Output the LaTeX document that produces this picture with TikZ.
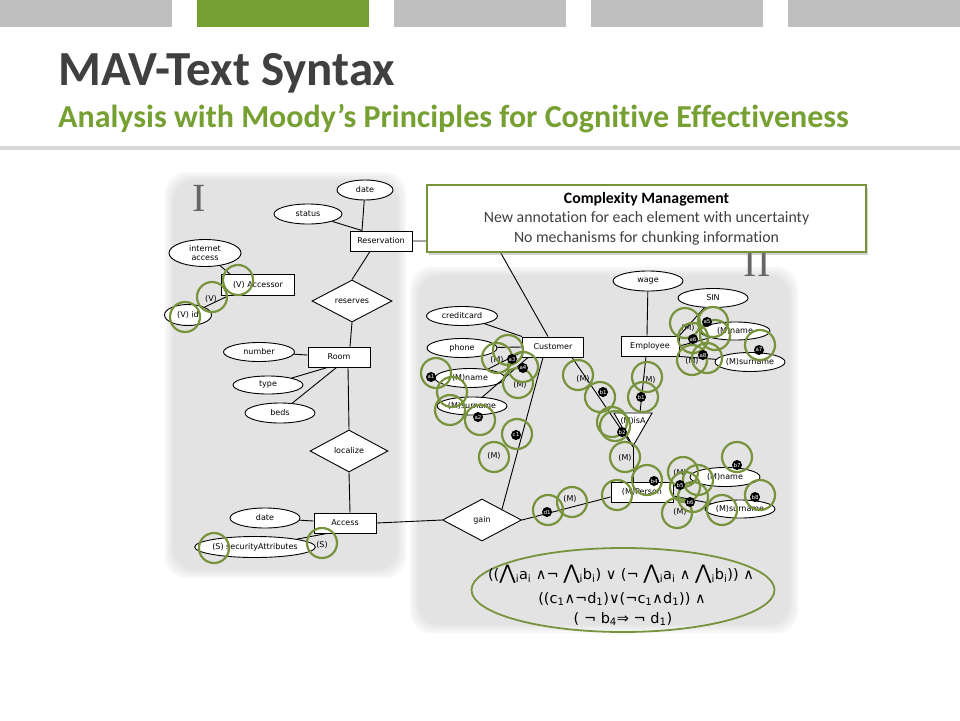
\documentclass[tikz,border=0pt]{standalone}
\usepackage{fontspec}
\setmainfont{DejaVu Sans}
\newfontfamily\calfont[Ligatures=NoCommon]{Carlito}
\newfontfamily\romfont{Liberation Serif}
\usetikzlibrary{shapes.geometric,shadows}
\definecolor{barg}{RGB}{191,191,191}
\definecolor{mavg}{RGB}{119,160,51}
\definecolor{circg}{RGB}{119,147,60}
\definecolor{titleg}{RGB}{64,64,64}
\newcommand\BW{{\fontsize{20}{20}\selectfont ⋀}}
\begin{document}
\begin{tikzpicture}[x=1pt,y=-1pt,
 ent/.style={draw,fill=white,line width=0.9pt,minimum height=20pt,inner sep=1pt,font=\fontsize{8}{9}\selectfont},
 attr/.style={ellipse,draw,fill=white,line width=0.9pt,minimum width=70pt,minimum height=19pt,inner sep=0pt,font=\fontsize{8}{9}\selectfont},
 rel/.style={diamond,draw,fill=white,line width=0.9pt,minimum width=80pt,minimum height=42pt,inner sep=0pt,font=\fontsize{8}{9}\selectfont},
 conn/.style={line width=0.9pt},
 gc/.style={circle,draw=circg,line width=2.2pt,minimum size=30pt,inner sep=0pt},
 bd/.style={circle,fill=black,minimum size=10pt,inner sep=0pt,text=white,font=\fontsize{5.5}{5.5}\selectfont},
 lab/.style={inner sep=0pt,font=\fontsize{8}{9}\selectfont},
]
\useasboundingbox (0,0) rectangle (960,720);
\fill[white] (0,0) rectangle (960,720);
% top bars
\fill[barg] (0,0) rectangle (172,27);
\fill[mavg] (197,0) rectangle (369,27);
\fill[barg] (394,0) rectangle (566,27);
\fill[barg] (591,0) rectangle (763,27);
\fill[barg] (788,0) rectangle (960,27);
% titles
\node[anchor=base west,inner sep=0pt,text=titleg,font=\calfont\bfseries\fontsize{49}{49}\selectfont] (title) at (58,85) {MAV-Text Syntax};
\node[anchor=base west,inner sep=0pt,text=mavg,font=\calfont\bfseries\fontsize{32}{32}\selectfont] (sub) at (58,127) {Analysis with Moody’s Principles for Cognitive Effectiveness};
\fill[black!15] (0,146) rectangle (960,150);
% panels
\foreach \d/\p in {8/3,6/5,4/7,2/9,0/11} {
  \fill[black!\p,rounded corners=22pt] (173-\d,180-\d) rectangle (398+\d,570+\d);
}
\foreach \d/\p in {8/3,6/5,4/7,2/9,0/11} {
  \fill[black!\p,rounded corners=22pt] (418-\d,275-\d) rectangle (790+\d,625+\d);
}
\node[font=\romfont\fontsize{40}{40}\selectfont,text=black!60,inner sep=0pt] (lI) at (199,198) {I};
\node[font=\romfont\fontsize{40}{40}\selectfont,text=black!60,inner sep=0pt] (lII) at (757,263) {II};

% ---- panel I nodes
\node[attr,minimum width=56pt,minimum height=20pt] (rdate) at (365,190) {date};
\node[attr,minimum width=68pt,minimum height=20pt] (status) at (308,214) {status};
\node[ent,minimum width=62pt] (res) at (381,241) {Reservation};
\node[rel] (reserves) at (352,301) {reserves};
\node[attr,minimum width=72pt,minimum height=27pt,align=center,font=\fontsize{8}{9.5}\selectfont] (iacc) at (205,253) {internet\\access};
\node[ent,minimum width=73pt,minimum height=21pt] (accessor) at (258,285) {(V) Accessor};
\node[attr,minimum width=47pt,minimum height=21pt] (vid) at (188,315) {(V) id};
\node[ent,minimum width=62pt] (room) at (339,357) {Room};
\node[attr,minimum width=71pt] (number) at (259,352) {number};
\node[attr,minimum height=18pt] (type) at (268,385) {type};
\node[attr,minimum height=20pt] (beds) at (280,413) {beds};
\node[rel,minimum width=78pt] (localize) at (349,451) {localize};
\node[ent,minimum width=62pt] (access) at (345,523) {Access};
\node[attr,minimum height=20pt] (adate) at (265,518) {date};
\node[attr,minimum width=104pt,minimum height=21pt] (secattr) at (255,547) {(S) securityAttributes};

% ---- panel II nodes
\node[ent,minimum width=61pt] (cust) at (553,347) {Customer};
\node[attr,minimum width=71pt] (credit) at (462,316) {creditcard};
\node[attr] (phone) at (462,348) {phone};
\node[attr] (cname) at (470,378) {(M)name};
\node[attr,minimum height=18pt] (csur) at (472,406) {(M)surname};
\node[rel,minimum width=79pt] (gain) at (482,520) {gain};
\node[ent,minimum width=58pt] (emp) at (650,346) {Employee};
\node[attr,minimum height=20pt] (wage) at (648,281) {wage};
\node[attr] (sin) at (713,298) {SIN};
\node[attr,minimum height=18pt] (ename) at (735,331) {(M)name};
\node[attr] (esur) at (750,362) {(M)surname};
\node[regular polygon,regular polygon sides=3,shape border rotate=180,draw,fill=white,line width=0.9pt,minimum size=44pt,inner sep=0pt] (isa) at (633,424) {};
\node[lab] (isatext) at (633,421) {(M)isA};
\node[ent,minimum width=62pt] (person) at (642,492) {(M)Person};
\node[attr] (pname) at (725,477) {(M)name};
\node[attr,minimum height=18pt] (psur) at (740,509) {(M)surname};

% ---- connectors
\draw[conn] (rdate) -- ([xshift=-19pt]res.north);
\draw[conn] (status) -- ([xshift=-19pt]res.north);
\draw[conn] ([xshift=-11pt]res.south) -- (reserves.north);
\draw[conn] (reserves.south) -- ([xshift=11pt]room.north);
\draw[conn] (number) -- (room);
\draw[conn] (type) -- ([xshift=20pt]room.south west);
\draw[conn] (beds) -- ([xshift=29pt]room.south west);
\draw[conn] ([xshift=9pt]room.south) -- (localize.north);
\draw[conn] (localize.south) -- ([xshift=5pt]access.north);
\draw[conn] (adate) -- (access);
\draw[conn] ([xshift=-18pt]access.south) -- (secattr);
\draw[conn] (access.east) -- (gain.west);
\draw[conn] (iacc) -- ([xshift=-28pt]accessor.north);
\draw[conn] (vid) -- ([xshift=-30pt]accessor.south);
\coordinate (hid) at (494,241);
\draw[conn] (res.east) -- (hid) -- ([xshift=-5pt]cust.north);
\draw[conn] (credit) -- (cust.north west);
\draw[conn] (phone) -- (cust.west);
\draw[conn] (cname) -- ([yshift=-5pt]cust.west);
\draw[conn] (csur) -- ([xshift=6pt]cust.south west);
\draw[conn] ([xshift=-10pt]cust.south) -- (gain.north east);
\draw[conn] (gain.east) -- ([yshift=-5pt]person.west);
\draw[conn] ([xshift=19pt]cust.south) -- (isa.corner 1);
\draw[conn] (wage) -- ([xshift=-3pt]emp.north);
\draw[conn] ([xshift=-4pt]emp.south) -- ([xshift=-10pt]emp.south |- isa.corner 2);
\draw[conn] (isa.corner 1) -- (isa.corner 1 |- person.north);
\draw[conn] (emp.north east) -- (sin);
\draw[conn] (emp.east) -- (ename);
\draw[conn] (emp.south east) -- (esur);
\draw[conn] ([yshift=6pt]person.east) -- (pname);
\draw[conn] ([yshift=-4pt]person.east) -- (psur);

% ---- annotation labels
\node[lab] (lv) at (211,299) {(V)};
\node[lab] (ls) at (322,545) {(S)};
\foreach \x/\y [count=\i] in {497/360,520/385,494/456,570/499,583/379,649/380,625/458,688/328,692/361,680/473,680/512}
  \node[lab] (m\i) at (\x,\y) {(M)};

% ---- green circles
\foreach \x/\y [count=\i] in {238/280,212/297,185/317,214/548,322/543,
  436/373,452/392,450/410,480/420,497/358,508/350,523/367,518/383,517/434,494/457,
  548/510,572/502,
  578/375,600/397,612/422,615/426,625/457,643/397,647/377,
  685/323,713/322,715/335,693/338,692/360,707/358,760/345,
  617/495,647/480,737/457,760/495,722/510,683/472,698/480,685/487,693/497,677/513}
  \node[gc] (g\i) at (\x,\y) {};

% ---- black dots
\foreach \x/\y/\t [count=\i] in {431/377/a1,478/417/a2,512/359/a3,523/368/a4,516/435/c1,547/512/d1,
  603/392/b1,622/432/b2,641/397/b1,707/322/a5,693/339/a6,703/355/a8,759/350/a7,
  654/481/b4,680/485/b5,690/502/b6,737/465/b7,755/497/b8}
  \node[bd] (dot\i) at (\x,\y) {\t};

% ---- formula
\node[ellipse,draw=circg,line width=1.8pt,minimum width=303pt,minimum height=84pt,inner sep=0pt] (fell) at (623,590) {};
\node[inner sep=0pt,font=\fontsize{14.5}{15}\selectfont] (f1) at (621,574) {((\BW\textsubscript{i}a\textsubscript{i} ∧¬ \BW\textsubscript{i}b\textsubscript{i}) ∨ (¬ \BW\textsubscript{i}a\textsubscript{i} ∧ \BW\textsubscript{i}b\textsubscript{i})) ∧};
\node[inner sep=0pt,font=\fontsize{14.5}{15}\selectfont] (f2) at (622,599) {((c\textsubscript{1}∧¬d\textsubscript{1})∨(¬c\textsubscript{1}∧d\textsubscript{1})) ∧};
\node[inner sep=0pt,font=\fontsize{14.5}{15}\selectfont] (f3) at (623,619) {( ¬ b\textsubscript{4}⇒ ¬ d\textsubscript{1})};

% ---- callout
\node[draw=circg,line width=2.5pt,fill=white,minimum width=439pt,minimum height=67pt,inner sep=0pt,
  drop shadow={opacity=0.35,shadow xshift=2pt,shadow yshift=-3pt},
  align=center,font=\calfont\fontsize{15.8}{19.5}\selectfont,text=black!75] (callout) at (646.5,218.5)
  {{\bfseries\color{black}Complexity Management}\\New annotation for each element with uncertainty\\No mechanisms for chunking information};
\end{tikzpicture}
\end{document}
